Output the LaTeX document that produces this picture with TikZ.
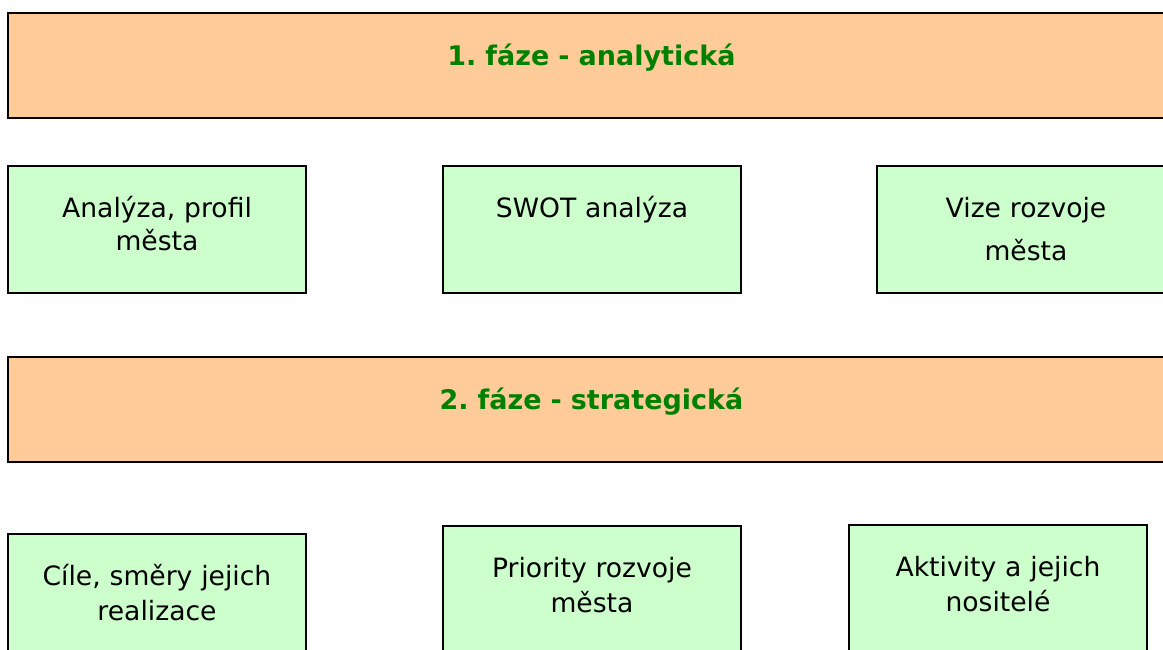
\documentclass[tikz,border=0pt]{standalone}
\usepackage{fontspec}
\setmainfont{DejaVu Sans}
\usepackage{xcolor}
\definecolor{fazefill}{HTML}{FFCC99}
\definecolor{boxfill}{HTML}{CCFFCC}
\definecolor{fazetext}{HTML}{008000}
\frenchspacing

\begin{document}
\begin{tikzpicture}[
        x=1pt, y=-1pt,
        line width=2.2pt,
        faze/.style={
            draw=black,
            fill=fazefill,
            inner sep=0pt,
            text width=1167pt,
            align=center,
            text height=52pt,
            text depth=53pt,
            text=fazetext,
            font=\bfseries\fontsize{27}{30}\selectfont
        },
        box/.style={
            draw=black,
            fill=boxfill,
            inner sep=0pt,
            text width=298pt,
            align=center,
            text height=51pt,
            text depth=76pt,
            font=\fontsize{26.6}{33}\selectfont
        }
    ]

        \clip (0,0) rectangle (1163,650);

        \node[faze, anchor=north] (f1) at (591.5, 12) {1. fáze - analytická};

        \node[box, anchor=north] (c1r1) at (157, 165)  {Analýza, profil\\města};
        \node[box, anchor=north] (c2r1) at (592, 165)  {SWOT analýza};
        \node[box, anchor=north] (c3r1) at (1026, 165) {Vize rozvoje\\[10pt]města};

        \node[faze, anchor=north] (f2) at (591.5, 356) {2. fáze - strategická};

        \node[box, anchor=north] (c1r2) at (157, 533)  {Cíle, směry jejich\\[2pt]realizace};
        \node[box, anchor=north] (c2r2) at (592, 525)  {Priority rozvoje\\[2pt]města};
        \node[box, anchor=north] (c3r2) at (998, 524)  {Aktivity a jejich\\[2pt]nositelé};

    \end{tikzpicture}
\end{document}
